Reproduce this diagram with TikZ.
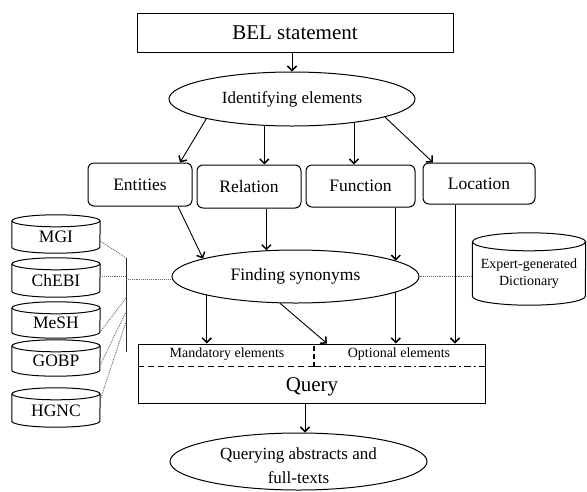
\documentclass[tikz,border=0pt]{standalone}
\usepackage{fontspec}
\setmainfont{Liberation Serif}
\usetikzlibrary{arrows.meta,shapes.geometric}

% cylinder outline around a rectangular node: top ellipse centred on .north,
% rounded bottom at .south; #2 = x radius, #3 = y radius
\newcommand\cylinderoutline[3]{%
  \draw[line width=1pt] (#1.north west) -- ([yshift=#3]#1.south west)
    arc[start angle=180,end angle=360,x radius=#2,y radius=#3]
    -- (#1.north east);
  \draw[line width=1pt] (#1.north) ellipse[x radius=#2,y radius=#3];
}

\tikzset{
  box/.style={draw,line width=1pt,rectangle,inner sep=0pt},
  rbox/.style={box,rounded corners=6pt,font=\fontsize{17.5}{20}\selectfont},
  oval/.style={draw,line width=1pt,ellipse,inner sep=0pt},
  arr/.style={line width=0.9pt,-{Straight Barb[length=4.5pt,width=9pt,line width=1.5pt]}},
  dots/.style={densely dotted,line width=0.9pt,black!60},
  cyl/.style={rectangle,inner sep=0pt,minimum width=88pt,font=\fontsize{17.5}{20}\selectfont},
}

\begin{document}
\begin{tikzpicture}[x=1pt,y=-1pt]
\useasboundingbox (0,0) rectangle (587,491);

% main flow
\node[box,minimum width=316pt,minimum height=39pt,font=\fontsize{21}{24}\selectfont]
  (bel) at (295,32.5) {BEL statement};
\node[oval,minimum width=246pt,minimum height=54pt,font=\fontsize{17}{20}\selectfont]
  (ident) at (292,99) {Identifying elements};

\node[rbox,minimum width=104pt,minimum height=43pt] (entities) at (140,184.5) {Entities};
\node[rbox,minimum width=104pt,minimum height=43pt] (relation) at (249,186.5) {Relation};
\node[rbox,minimum width=109pt,minimum height=42pt] (function) at (360.5,186) {Function};
\node[rbox,minimum width=112pt,minimum height=41pt] (location) at (479,183.5) {Location};

\node[oval,minimum width=247pt,minimum height=53pt,font=\fontsize{17.5}{20}\selectfont]
  (syn) at (295.5,276.5) {Finding synonyms};

% query box with its two element fields
\node[box,minimum width=347pt,minimum height=59pt] (query) at (311.5,373.5) {};
\node[font=\fontsize{21}{24}\selectfont] (qlabel) at (312,387) {Query};
\node[font=\fontsize{14}{16}\selectfont] (mand) at (227,354.5) {Mandatory elements};
\node[font=\fontsize{14}{16}\selectfont] (opt) at (399,354.5) {Optional elements};
\coordinate (qdiv) at (314,366.5);
\draw[line width=1.1pt,dash pattern=on 6pt off 4pt] (query.west |- qdiv) -- (qdiv);
\draw[line width=1.1pt,dash pattern=on 7pt off 3pt on 2pt off 3pt] (qdiv) -- (query.east |- qdiv);
\draw[line width=1.1pt,dash pattern=on 5pt off 3pt] (qdiv) -- (qdiv |- query.north);

\node[oval,minimum width=257pt,minimum height=57pt] (out) at (298.5,461.5) {};
\node[align=center,font=\fontsize{17}{24}\selectfont] (outtext) at (298.5,466)
  {Querying abstracts and\\full-texts};

% arrows
\draw[arr] (bel.south -| ident.north) -- (ident.north);
\draw[arr] (ident.193) -- ([xshift=40pt]entities.north);
\draw[arr] (ident.224) -- (ident.224 |- relation.north);
\draw[arr] (ident.-21) -- (ident.-21 |- function.north);
\draw[arr] (ident.-11) -- ([xshift=-46pt]location.north);

\draw[arr] ([xshift=38pt]entities.south) -- (syn.169);
\draw[arr] (syn.138 |- relation.south) -- (syn.138);
\draw[arr] (syn.9 |- function.south) -- (syn.9);
\draw[arr] ([xshift=-24pt]location.south) -- ([xshift=-24pt]location.south |- query.north);

\draw[arr] (syn.192) -- (syn.192 |- query.north);
\draw[arr] (syn.240) -- ([xshift=15.5pt]query.north);
\draw[arr] (syn.-9.5) -- (syn.-9.5 |- query.north);

\draw[arr] ([xshift=-6.5pt]query.south) -- ([xshift=-6.5pt]query.south |- out.north);

% synonym sources
\node[cyl,minimum height=32pt] (mgi) at (56,237) {MGI};
\node[cyl,minimum height=33pt] (chebi) at (56,280.5) {ChEBI};
\node[cyl,minimum height=30pt] (mesh) at (56,323) {MeSH};
\node[cyl,minimum height=30pt] (gobp) at (56,361) {GOBP};
\node[cyl,minimum height=33pt] (hgnc) at (56,410.5) {HGNC};
\foreach \c in {mgi,chebi,mesh,gobp,hgnc}{\cylinderoutline{\c}{44pt}{6pt}}

\node[cyl,minimum width=113pt,minimum height=63pt,align=center,
  font=\fontsize{14}{17}\selectfont] (dict) at (529,273.5) {Expert-generated\\Dictionary};
\cylinderoutline{dict}{56.5pt}{9pt}

% collecting bar and dotted links to the synonym step
\coordinate (bartop) at (126,258);
\coordinate (barbot) at (126,352);
\coordinate (bchebi) at (126,276);
\coordinate (bsyn) at (126,279);
\coordinate (bmesh) at (126,298);
\coordinate (bgobp) at (126,312);
\coordinate (bhgnc) at (126,322);
\draw[line width=1pt,black!85] (bartop) -- (barbot);
\draw[dots] ([yshift=-4pt]mgi.east) -- (bartop);
\draw[dots] (chebi.east |- bchebi) -- (bchebi);
\draw[dots] ([yshift=-9pt]mesh.east) -- (bmesh);
\draw[dots] ([yshift=-4pt]gobp.east) -- (bgobp);
\draw[dots] ([yshift=-6pt]hgnc.north east) -- (bhgnc);
\draw[dots] (bsyn) -- (syn.west |- bsyn);
\draw[dots] (syn.east) -- (dict.west |- syn.east);
\end{tikzpicture}
\end{document}
